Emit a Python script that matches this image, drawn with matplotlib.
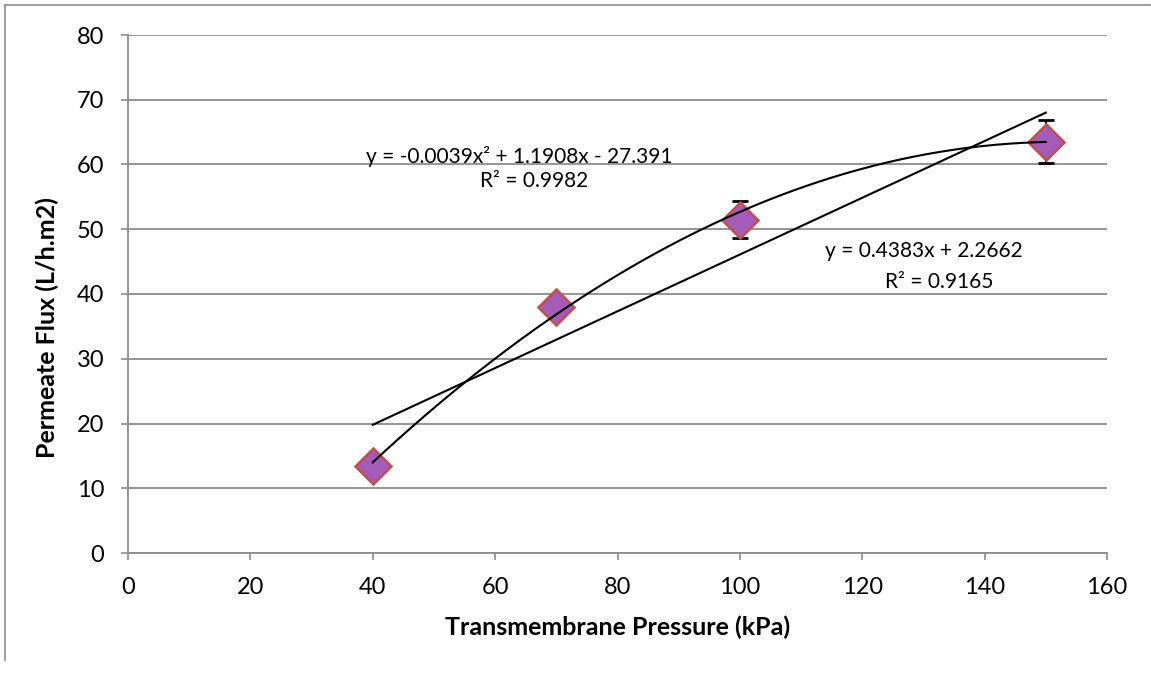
import matplotlib.pyplot as plt
import numpy as np

plt.rcParams['font.family'] = ['Lato', 'DejaVu Sans']

# measured flux vs pressure
pressure = [40, 70, 100, 150]
flux = [13.5, 38.0, 51.5, 63.5]
flux_err = [0.8, 1.0, 2.8, 3.3]

# trendline coefficients (Excel)
poly_coef = [-0.0039, 1.1908, -27.391]
lin_coef = [0.4383, 2.2662]
poly_r2 = 0.9982
lin_r2 = 0.9165

fig = plt.figure(figsize=(11.51, 6.74), dpi=100)
ax = fig.add_axes([128 / 1151, 1 - 553 / 674, (1107 - 128) / 1151, (553 - 35) / 674])

# outer chart border (left and top only)
fig.add_artist(plt.Line2D([5 / 1151, 5 / 1151], [1 - 660 / 674, 1 - 5 / 674],
                          color='#8c8c8c', lw=1.2, transform=fig.transFigure))
fig.add_artist(plt.Line2D([5 / 1151, 1150 / 1151], [1 - 5 / 674, 1 - 5 / 674],
                          color='#8c8c8c', lw=1.2, transform=fig.transFigure))

ax.set_xlim(0, 160)
ax.set_ylim(0, 80)
ax.set_xticks(np.arange(0, 161, 20))
ax.set_yticks(np.arange(0, 81, 10))
ax.yaxis.grid(True, color='#8c8c8c', lw=1.3)
ax.set_axisbelow(True)
for s in ['top', 'right']:
    ax.spines[s].set_visible(False)
for s in ['left', 'bottom']:
    ax.spines[s].set_color('#8c8c8c')
    ax.spines[s].set_linewidth(1.3)
ax.tick_params(axis='both', colors='#8c8c8c', length=5, width=1.2, labelsize=17,
               labelcolor='black', direction='out')
ax.tick_params(axis='y', pad=12)
ax.tick_params(axis='x', pad=12)

# trendlines
xs = np.linspace(min(pressure), max(pressure), 200)
ax.plot(xs, np.polyval(poly_coef, xs), color='black', lw=1.5, zorder=3)
ax.plot(xs, np.polyval(lin_coef, xs), color='black', lw=1.5, zorder=3)

ax.errorbar(pressure, flux, yerr=flux_err, fmt='none', ecolor='black',
            elinewidth=1.3, capsize=6, capthick=2, zorder=2)
ax.plot(pressure, flux, 'D', ms=18, mfc='#a45cb8', mec='#c0504d', mew=1.8, zorder=2.5)

ax.text(63.9, 61.2, 'y = -0.0039x² + 1.1908x - 27.391', ha='center', va='center', fontsize=15)
ax.text(66.4, 57.4, 'R² = %.4f' % poly_r2, ha='center', va='center', fontsize=15)
ax.text(130.0, 46.6, 'y = 0.4383x + 2.2662', ha='center', va='center', fontsize=15)
ax.text(132.5, 41.9, 'R² = %.4f' % lin_r2, ha='center', va='center', fontsize=15)

ax.set_xlabel('Transmembrane Pressure (kPa)', fontsize=18, fontweight='bold', labelpad=13)
ax.set_ylabel('Permeate Flux (L/h.m2)', fontsize=18, fontweight='bold', labelpad=13, y=0.436)

fig.savefig('out.png', dpi=100)
